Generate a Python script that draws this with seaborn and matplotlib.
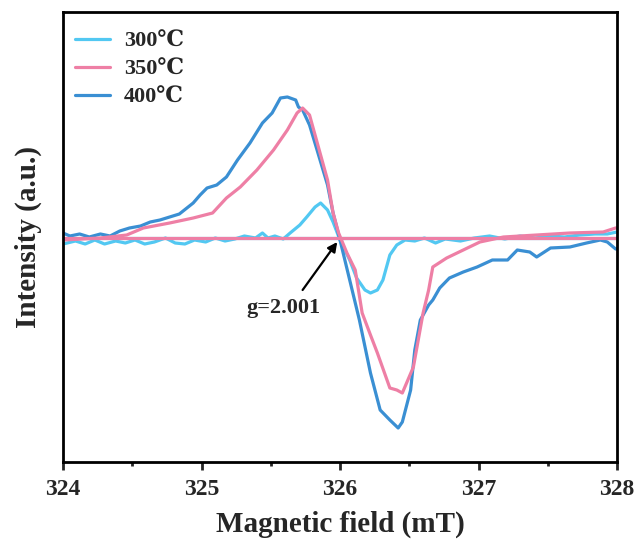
import numpy as np
import pandas as pd
import matplotlib
matplotlib.use("Agg")
import matplotlib.pyplot as plt
import seaborn as sns

# Field values (mT) and intensities (a.u.)
field_300 = [324.00, 324.09, 324.16, 324.23, 324.30, 324.38, 324.45, 324.52, 324.59, 324.66, 324.74,
             324.81, 324.88, 324.95, 325.03, 325.10, 325.17, 325.24, 325.31, 325.39, 325.44, 325.48,
             325.53, 325.59, 325.64, 325.71, 325.76, 325.82, 325.86, 325.91, 325.95, 326.00, 326.07,
             326.12, 326.18, 326.22, 326.27, 326.31, 326.36, 326.41, 326.47, 326.54, 326.61, 326.69,
             326.76, 326.87, 326.97, 327.08, 327.19, 327.30, 327.41, 327.52, 327.62, 327.73, 327.84,
             327.93, 328.00]
int_300 = [-6, -3, -6, -2, -6, -3, -5, -2, -6, -4, 0,
           -5, -6, -2, -4, 0, -3, -1, 2, 0, 5, 0,
           2, -1, 5, 13, 21, 31, 35, 28, 16, -2, -22,
           -40, -52, -55, -52, -42, -17, -7, -2, -3, 0, -5,
           -1, -3, 0, 2, -1, 2, 0, 2, 1, 3, 4,
           4, 6]

field_350 = [324.00, 324.27, 324.46, 324.58, 324.77, 324.94, 325.08, 325.18, 325.28, 325.40, 325.52,
             325.62, 325.69, 325.73, 325.78, 325.83, 325.91, 325.95, 325.99, 326.05, 326.11, 326.16,
             326.22, 326.27, 326.36, 326.41, 326.45, 326.49, 326.53, 326.60, 326.64, 326.67, 326.77,
             326.89, 327.01, 327.18, 327.42, 327.66, 327.90, 327.99, 328.00]
int_350 = [-2, 0, 3, 10, 15, 20, 25, 40, 51, 68, 88,
           108, 125, 130, 123, 98, 58, 25, 5, -15, -32, -75,
           -97, -115, -150, -152, -155, -142, -129, -75, -52, -29, -20,
           -12, -4, 1, 3, 5, 6, 10, 10]

field_400 = [324.00, 324.05, 324.12, 324.19, 324.27, 324.34, 324.41, 324.48, 324.56, 324.63, 324.70,
             324.77, 324.84, 324.94, 324.99, 325.04, 325.11, 325.18, 325.26, 325.35, 325.44, 325.51,
             325.57, 325.62, 325.68, 325.70, 325.73, 325.78, 325.83, 325.91, 325.95, 326.00, 326.07,
             326.14, 326.22, 326.29, 326.36, 326.42, 326.45, 326.51, 326.54, 326.58, 326.64, 326.67,
             326.72, 326.79, 326.89, 326.99, 327.10, 327.21, 327.28, 327.37, 327.42, 327.52, 327.66,
             327.78, 327.88, 327.93, 327.99, 328.00]
int_400 = [5, 2, 4, 1, 4, 2, 7, 10, 12, 16, 18,
           21, 24, 35, 43, 50, 53, 61, 78, 95, 115, 125,
           140, 141, 138, 131, 128, 113, 90, 53, 25, -2, -42,
           -82, -135, -172, -182, -190, -184, -152, -112, -82, -67, -62,
           -50, -40, -34, -29, -22, -22, -12, -14, -19, -10, -9,
           -5, -2, -4, -11, -11]

baseline_field = [324.0, 328.0]
baseline_300 = [0, 0]
baseline_350 = [0, 0]

labels = ["300\u2103", "350\u2103", "400\u2103"]
colors = ["#52C8F2", "#EE7FA5", "#3A8FD3"]

sns.set_theme(style="white")
plt.rcParams['font.family'] = ['Liberation Serif', 'DejaVu Serif']
plt.rcParams['font.weight'] = 'bold'

fig = plt.figure(figsize=(6.38, 5.44), dpi=100)
ax = fig.add_axes([63/638, 1-462/544, (617-63)/638, (462-12)/544])

lw = 2.3
sns.lineplot(x=baseline_field, y=baseline_300, ax=ax, color=colors[0], lw=lw)
sns.lineplot(x=field_300, y=int_300, ax=ax, color=colors[0], lw=lw, label=labels[0])
sns.lineplot(x=field_400, y=int_400, ax=ax, color=colors[2], lw=lw, label=labels[2])
sns.lineplot(x=field_350, y=int_350, ax=ax, color=colors[1], lw=lw, label=labels[1])
sns.lineplot(x=baseline_field, y=baseline_350, ax=ax, color=colors[1], lw=lw)

ax.set_xlim(324, 328)
ax.set_ylim(-224, 226)
ax.set_xticks([324, 325, 326, 327, 328])
ax.set_xticks([324.5, 325.5, 326.5, 327.5], minor=True)
ax.set_yticks([])
ax.tick_params(axis='x', which='major', direction='out', length=6, width=2, labelsize=17, bottom=True, pad=6)
ax.tick_params(axis='x', which='minor', direction='out', length=3, width=2, bottom=True)
for lab in ax.get_xticklabels():
    lab.set_fontweight('bold')
for s in ax.spines.values():
    s.set_linewidth(2)
    s.set_color('black')

ax.set_xlabel("Magnetic field (mT)", fontsize=21, fontweight='bold', labelpad=8)
ax.set_ylabel("Intensity (a.u.)", fontsize=21, fontweight='bold', labelpad=15)

ax.annotate("", xy=(325.98, -4), xytext=(325.73, -52),
            arrowprops=dict(arrowstyle='-|>', color='black', lw=1.6, mutation_scale=14,
                            shrinkA=0, shrinkB=0))
ax.text(325.59, -70, "g=2.001", fontsize=16, fontweight='bold', ha='center', va='center')

handles, labs = ax.get_legend_handles_labels()
order = [labs.index(l) for l in labels]
leg = ax.legend([handles[i] for i in order], [labs[i] for i in order], loc='upper left',
                bbox_to_anchor=(-7/554, 1.0),
                frameon=False, handlelength=1.6, borderaxespad=0.45, handletextpad=0.6,
                labelspacing=0.34, prop={'weight': 'bold', 'size': 16})

fig.savefig("out.png", dpi=100)
